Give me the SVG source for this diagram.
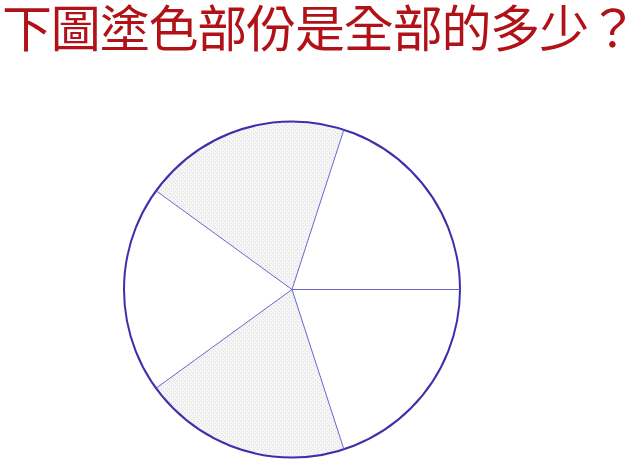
<svg xmlns="http://www.w3.org/2000/svg" width="639" height="460" viewBox="0 0 639 460">
  <style>
    .title { font-family: "Liberation Sans", "Noto Sans CJK TC", "Noto Sans CJK SC", sans-serif; font-size: 50px; fill: #b01218; }
    .rim { fill: none; stroke: #3b30aa; stroke-width: 2; }
    .spoke { stroke: #6868cc; stroke-width: 1; fill: none; }
    .shade { fill: url(#dots); stroke: none; }
  </style>
  <defs>
    <pattern id="dots" width="4" height="4" patternUnits="userSpaceOnUse">
      <rect width="4" height="4" fill="#f5f5f5"/>
      <rect x="1" y="1" width="1" height="1" fill="#d6d6d6"/>
      <rect x="3" y="3" width="1" height="1" fill="#e2e2e2"/>
    </pattern>
  </defs>
  <rect width="639" height="460" fill="#ffffff"/>
  <text class="title" x="2" y="47" textLength="636" lengthAdjust="spacing">下圖塗色部份是全部的多少？</text>
  <g id="pie">
    <path class="shade" d="M292,289.5 L156.1,190.8 A168,168 0 0 1 343.9,129.7 Z"/>
    <path class="shade" d="M292,289.5 L343.9,449.3 A168,168 0 0 1 156.1,388.2 Z"/>
    <circle class="rim" cx="292" cy="289.5" r="168"/>
  </g>
  <g id="connectors">
    <line class="spoke" x1="292" y1="289.5" x2="460" y2="289.5"/>
    <line class="spoke" x1="292" y1="289.5" x2="343.9" y2="129.7"/>
    <line class="spoke" x1="292" y1="289.5" x2="156.1" y2="190.8"/>
    <line class="spoke" x1="292" y1="289.5" x2="156.1" y2="388.2"/>
    <line class="spoke" x1="292" y1="289.5" x2="343.9" y2="449.3"/>
  </g>
</svg>
